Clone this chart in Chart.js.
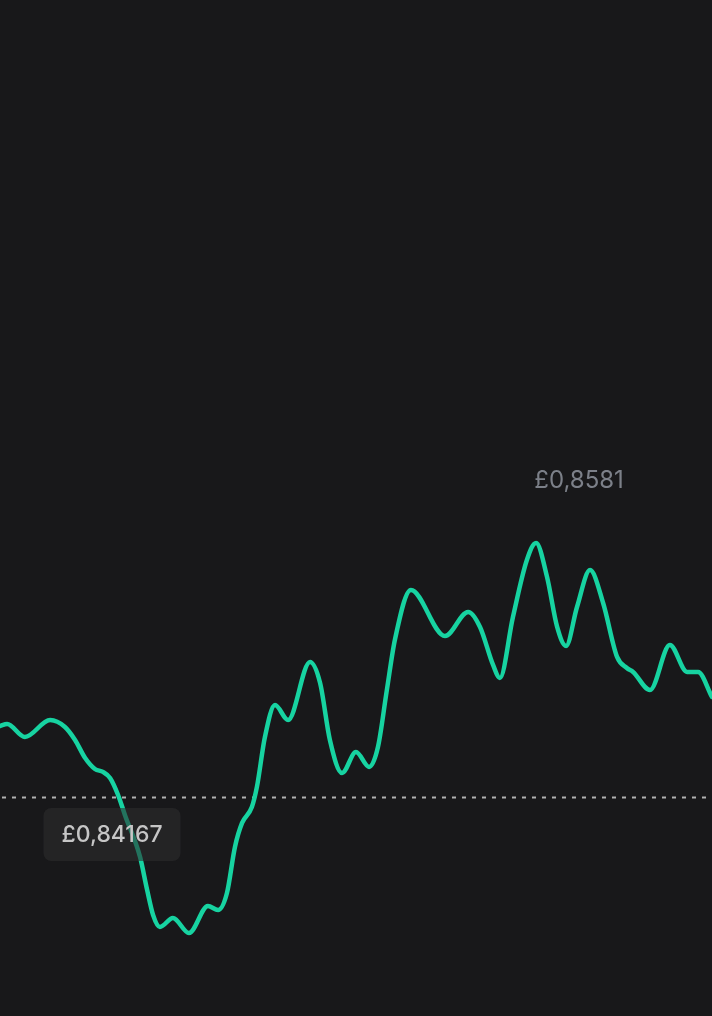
<!DOCTYPE html>
<html>
<head>
<meta charset="utf-8">
<script src="https://cdn.jsdelivr.net/npm/chart.js@4"></script>
<style>
  html, body { margin: 0; padding: 0; background: #18181a; }
  #wrap { width: 712px; height: 1016px; }
</style>
</head>
<body>
<div id="wrap"><canvas id="c" width="712" height="1016"></canvas></div>
<script>
// time in hours over the day
const hours = [0, 0.24, 0.84, 1.69, 2.19, 2.53, 2.87, 3.20, 3.47, 3.71, 3.98, 4.21, 4.72, 4.96, 5.16, 5.39,
  5.83, 6.37, 7.01, 7.35, 7.65, 7.92, 8.16, 8.49, 8.66, 8.93, 9.27, 9.71, 10.45, 10.79, 11.12, 11.53,
  12.00, 12.44, 12.74, 13.04, 13.31, 13.85, 15.00, 15.78, 16.18, 16.62, 16.85, 17.29, 17.76,
  18.07, 18.44, 18.78, 19.08, 19.45, 19.89, 20.33, 20.80, 21.13, 21.34, 21.91, 22.58, 23.16, 23.53, 24.00];
// GBP price
const prices = [0.84626, 0.84639, 0.84555, 0.84665, 0.84620, 0.84536, 0.84419, 0.84348, 0.84329, 0.84290,
  0.84180, 0.84051, 0.83779, 0.83565, 0.83404, 0.83326, 0.83384, 0.83287, 0.83462, 0.83436, 0.83546,
  0.83844, 0.83999, 0.84102, 0.84232, 0.84555, 0.84762, 0.84665, 0.85040, 0.84904, 0.84536, 0.84322,
  0.84458, 0.84361, 0.84490, 0.84859, 0.85183, 0.85506, 0.85208, 0.85364, 0.85267, 0.85021,
  0.84937, 0.85331, 0.85700, 0.85810, 0.85590, 0.85267, 0.85144, 0.85396, 0.85635, 0.85422, 0.85073,
  0.85001, 0.84976, 0.84859, 0.85150, 0.84976, 0.84976, 0.84814];
const referencePrice = 0.84167;
const referenceLabel = '£0,84167';
const highLabel = '£0,8581';
const yMin = 0.82750, yMax = 0.89323;

const points = hours.map((h, i) => ({ x: h, y: prices[i] }));

const overlay = {
  id: 'overlay',
  beforeDatasetsDraw(chart) {
    const { ctx, chartArea, scales } = chart;
    const y = Math.round(scales.y.getPixelForValue(referencePrice)) + 0.5;
    ctx.save();
    ctx.strokeStyle = 'rgba(205,205,205,0.85)';
    ctx.lineWidth = 2;
    ctx.setLineDash([4, 6]);
    ctx.beginPath();
    ctx.moveTo(chartArea.left + 2, y);
    ctx.lineTo(chartArea.right, y);
    ctx.stroke();
    ctx.restore();
  },
  afterDatasetsDraw(chart) {
    const { ctx, scales } = chart;
    const yRef = scales.y.getPixelForValue(referencePrice);
    ctx.save();
    // reference label box
    ctx.font = '500 23px Inter, "Noto Sans", sans-serif';
    const tw = ctx.measureText(referenceLabel).width;
    const cx = 112;
    const bw = tw + 36, bh = 53;
    const bx = cx - bw / 2, by = yRef + 11;
    ctx.fillStyle = 'rgba(44,44,46,0.58)';
    ctx.beginPath();
    ctx.roundRect(bx, by, bw, bh, 8);
    ctx.fill();
    ctx.fillStyle = '#c6c6c6';
    ctx.textAlign = 'center';
    ctx.textBaseline = 'middle';
    ctx.fillText(referenceLabel, cx, by + bh / 2 + 1);
    // high label
    const maxVal = Math.max(...prices);
    const idx = prices.indexOf(maxVal);
    const px = scales.x.getPixelForValue(hours[idx]);
    const py = scales.y.getPixelForValue(maxVal);
    ctx.font = '400 24px Inter, "Noto Sans", sans-serif';
    ctx.fillStyle = '#7c8089';
    ctx.fillText(highLabel, px + 43, py - 62);
    ctx.restore();
  }
};

new Chart(document.getElementById('c'), {
  type: 'line',
  data: {
    datasets: [{
      data: points,
      borderColor: '#17d3a1',
      borderWidth: 4.5,
      pointRadius: 0,
      cubicInterpolationMode: 'monotone',
      fill: false,
      borderCapStyle: 'round',
      borderJoinStyle: 'round'
    }]
  },
  options: {
    responsive: false,
    devicePixelRatio: 1,
    animation: false,
    layout: { padding: 0 },
    plugins: { legend: { display: false }, tooltip: { enabled: false } },
    scales: {
      x: { type: 'linear', min: 0, max: 24, display: false },
      y: { type: 'linear', min: yMin, max: yMax, display: false }
    }
  },
  plugins: [overlay]
});
</script>
</body>
</html>
